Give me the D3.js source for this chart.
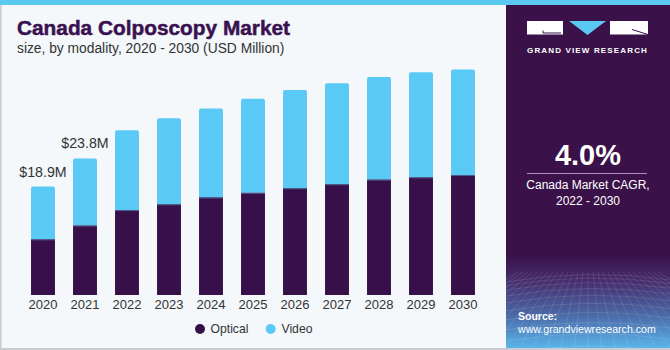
<!DOCTYPE html>
<html>
<head>
<meta charset="utf-8">
<script src="https://cdn.jsdelivr.net/npm/d3@7/dist/d3.min.js"></script>
<style>
  html, body { margin: 0; padding: 0; background: #ffffff; }
  svg { display: block; }
  text { font-family: "Liberation Sans", Arial, sans-serif; }
</style>
</head>
<body>
<svg id="chart" width="670" height="350"></svg>
<script>
// ---- data ----
const years = ["2020","2021","2022","2023","2024","2025","2026","2027","2028","2029","2030"];
const optical = [9.7, 12.1, 14.8, 15.8, 17.0, 17.8, 18.6, 19.3, 20.1, 20.5, 20.9];
const video   = [9.2, 11.7, 13.9, 15.0, 15.5, 16.4, 17.1, 17.6, 17.9, 18.3, 18.4];
const labelledYears = ["2020", "2021"];
const seriesNames = ["Optical", "Video"];
const cagrValue = "4.0%";
const cagrLines = ["Canada Market CAGR,", "2022 - 2030"];

const colors = { Optical: "#37104a", Video: "#5bc9f6" };

const svg = d3.select("#chart");
const W = 670, H = 350;

// backgrounds
svg.append("rect").attr("x", 0).attr("y", 0).attr("width", W).attr("height", H).attr("fill", "#f4f8fb");
svg.append("rect").attr("x", 0).attr("y", 0).attr("width", 1.5).attr("height", H).attr("fill", "#c9ccd0");
svg.append("rect").attr("x", 0).attr("y", 348).attr("width", W).attr("height", 2).attr("fill", "#c9ccd0");

// right panel
const px0 = 506, pw = W - px0, pcx = px0 + pw / 2;
svg.append("rect").attr("x", px0).attr("y", 0).attr("width", pw).attr("height", 348).attr("fill", "#3a1149");

const defs = svg.append("defs");
const grad = defs.append("linearGradient").attr("id", "bottomGrad").attr("x1", 0).attr("y1", 0).attr("x2", 0).attr("y2", 1);
grad.append("stop").attr("offset", "0%").attr("stop-color", "#3a1149");
grad.append("stop").attr("offset", "30%").attr("stop-color", "#46306f");
grad.append("stop").attr("offset", "65%").attr("stop-color", "#4b6aa8");
grad.append("stop").attr("offset", "100%").attr("stop-color", "#5ab4ea");
svg.append("rect").attr("x", px0).attr("y", 255).attr("width", pw).attr("height", 93).attr("fill", "url(#bottomGrad)");

defs.append("clipPath").attr("id", "meshClip").append("rect").attr("x", px0).attr("y", 272).attr("width", pw).attr("height", 76);
const mesh = svg.append("g").attr("clip-path", "url(#meshClip)")
  .attr("stroke", "#ffffff").attr("stroke-opacity", 0.16).attr("fill", "none").attr("stroke-width", 0.7);
for (let i = 0; i < 12; i++) {
  const yy = 276 + i * i * 0.55 + i * 3;
  mesh.append("path").attr("d", `M${px0},${yy + 6} Q${pcx},${yy - 8} ${W},${yy + 4}`);
}
for (let i = -14; i <= 14; i++) {
  const xb = pcx + i * 14;
  mesh.append("path").attr("d", `M${pcx + i * 5},272 L${xb},350`);
}

// top stripe
svg.append("rect").attr("x", 0).attr("y", 0).attr("width", W).attr("height", 5).attr("fill", "#5bc8f2");

// logo
const logo = svg.append("g");
logo.append("rect").attr("x", 527).attr("y", 21).attr("width", 36).attr("height", 13.5).attr("fill", "#ffffff");
logo.append("path").attr("d", "M543,30.5 V33 H561").attr("stroke", "#3a1149").attr("stroke-width", 1).attr("fill", "none");
logo.append("path").attr("d", "M569,21 L606,21 L587.5,35 Z").attr("fill", "#5bc8f2");
logo.append("rect").attr("x", 610).attr("y", 21).attr("width", 38).attr("height", 13.5).attr("fill", "#ffffff");
logo.append("path").attr("d", "M632,29.5 L648,34.5").attr("stroke", "#3a1149").attr("stroke-width", 1).attr("fill", "none");
logo.append("text").attr("x", 587.5).attr("y", 53).attr("text-anchor", "middle")
  .attr("font-size", 8).attr("font-weight", "bold").attr("letter-spacing", 1.15).attr("fill", "#ffffff")
  .text("GRAND VIEW RESEARCH");

// CAGR
svg.append("text").attr("x", pcx).attr("y", 165).attr("text-anchor", "middle")
  .attr("font-size", 29).attr("font-weight", "bold").attr("fill", "#ffffff").text(cagrValue);
svg.append("line").attr("x1", 527).attr("x2", 647).attr("y1", 173.5).attr("y2", 173.5)
  .attr("stroke", "#a995bb").attr("stroke-width", 1);
cagrLines.forEach((t, i) => {
  svg.append("text").attr("x", pcx).attr("y", 189 + i * 15.5).attr("text-anchor", "middle")
    .attr("font-size", 12).attr("fill", "#ffffff").text(t);
});

// source
svg.append("text").attr("x", 518).attr("y", 320).attr("font-size", 10.5).attr("font-weight", "bold")
  .attr("fill", "#ffffff").text("Source:");
svg.append("text").attr("x", 518).attr("y", 333).attr("font-size", 10.6)
  .attr("fill", "#ffffff").text("www.grandviewresearch.com");

// title
svg.append("text").attr("x", 17).attr("y", 35).attr("font-size", 21).attr("font-weight", "bold")
  .attr("fill", "#3a1150").attr("stroke", "#3a1150").attr("stroke-width", 0.5)
  .attr("textLength", 273).attr("lengthAdjust", "spacingAndGlyphs")
  .text("Canada Colposcopy Market");
svg.append("text").attr("x", 17).attr("y", 53).attr("font-size", 13.8)
  .attr("fill", "#333333").text("size, by modality, 2020 - 2030 (USD Million)");

// scales
const x = d3.scaleBand().domain(years).range([22, 484]).paddingInner(0.43).paddingOuter(0.215);
const y = d3.scaleLinear().domain([0, 40]).range([295, 295 - 40 * 5.74]);

const rows = years.map((yr, i) => ({ year: yr, Optical: optical[i], Video: video[i] }));
const stack = d3.stack().keys(seriesNames)(rows);

const g = svg.append("g");
// video (top) with rounded top
g.selectAll("path.video").data(stack[1]).join("path").attr("class", "video")
  .attr("fill", colors.Video)
  .attr("d", d => {
    const x0 = x(d.data.year), bw = x.bandwidth(), yt = y(d[1]), yb = y(d[0]), r = 2;
    return `M${x0},${yb} V${yt + r} Q${x0},${yt} ${x0 + r},${yt} H${x0 + bw - r} Q${x0 + bw},${yt} ${x0 + bw},${yt + r} V${yb} Z`;
  });
g.selectAll("rect.optical").data(stack[0]).join("rect").attr("class", "optical")
  .attr("x", d => x(d.data.year)).attr("width", x.bandwidth())
  .attr("y", d => y(d[1])).attr("height", d => y(d[0]) - y(d[1]))
  .attr("fill", colors.Optical);
g.selectAll("line.sep").data(stack[0]).join("line").attr("class", "sep")
  .attr("x1", d => x(d.data.year)).attr("x2", d => x(d.data.year) + x.bandwidth())
  .attr("y1", d => y(d[1]) + 0.5).attr("y2", d => y(d[1]) + 0.5)
  .attr("stroke", "#4f5d8c").attr("stroke-width", 1);

// value labels
g.selectAll("text.val").data(stack[1].filter(d => labelledYears.includes(d.data.year))).join("text")
  .attr("class", "val")
  .attr("x", d => x(d.data.year) + x.bandwidth() / 2)
  .attr("y", d => y(d[1]) - 10)
  .attr("text-anchor", "middle").attr("font-size", 14.2).attr("fill", "#333333")
  .text(d => "$" + d3.format(".1f")(d.data.Optical + d.data.Video) + "M");

// x axis
const xAxis = svg.append("g").attr("transform", "translate(0,295)")
  .call(d3.axisBottom(x).tickSize(0).tickPadding(4.5));
xAxis.select(".domain").remove();
xAxis.selectAll("text").attr("font-size", 13).attr("fill", "#333333")
  .attr("font-family", "'Liberation Sans', Arial, sans-serif");

// legend
const legend = svg.append("g");
const legendPos = [{ cx: 200, tx: 210.5 }, { cx: 270.7, tx: 281.5 }];
seriesNames.forEach((s, i) => {
  legend.append("circle").attr("cx", legendPos[i].cx).attr("cy", 329).attr("r", 5).attr("fill", colors[s]);
  legend.append("text").attr("x", legendPos[i].tx).attr("y", 333.3).attr("font-size", 12.2)
    .attr("fill", "#333333").text(s);
});
</script>
</body>
</html>
